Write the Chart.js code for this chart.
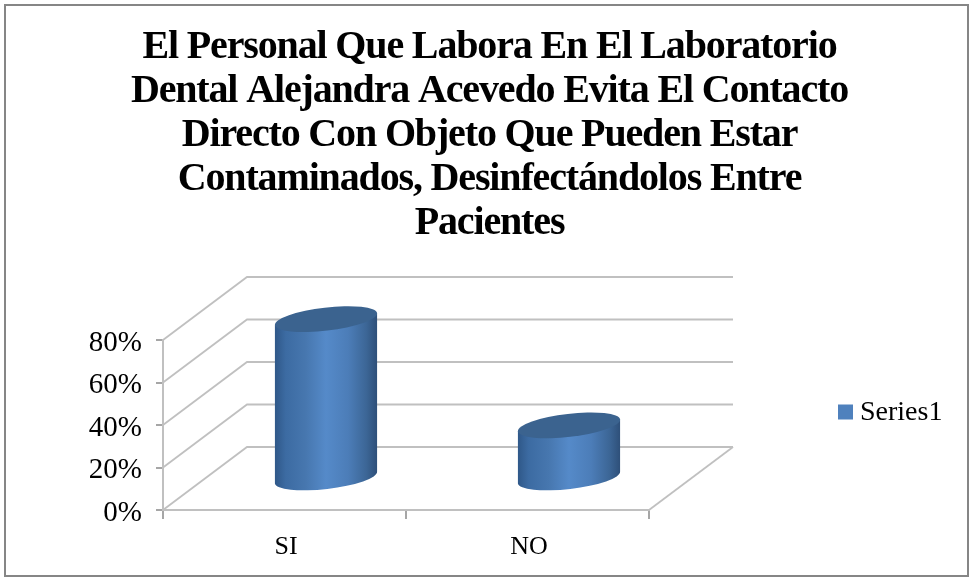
<!DOCTYPE html>
<html>
<head>
<meta charset="utf-8">
<style>html,body{margin:0;padding:0;background:#fff}canvas{display:block}</style>
<script src="https://cdn.jsdelivr.net/npm/chart.js@4"></script>
</head>
<body>
<canvas id="c" width="973" height="580" style="width:973px;height:580px"></canvas>
<script>
const categories = ['SI', 'NO'];
const seriesName = 'Series1';
const seriesValues = [75, 25];
const yTickValues = [0, 20, 40, 60, 80];
const titleLines = [
  'El Personal Que Labora En El Laboratorio',
  'Dental Alejandra Acevedo Evita El Contacto',
  'Directo Con Objeto Que Pueden Estar',
  'Contaminados, Desinfectándolos Entre',
  'Pacientes'
];
const DEPTH_X = 84, DEPTH_Y = -63;
const WALL = '#c0c0c0', TICK = '#a6a6a6', AXISFONT = '"Liberation Serif", serif';

function cylinder(ctx, cx, top, base, w) {
  const a = w / 2 + 1, b = 11.5, rot = -0.115;
  const dx = a * Math.cos(rot), dy = a * Math.sin(rot);
  const g = ctx.createLinearGradient(cx - w / 2, 0, cx + w / 2, 0);
  g.addColorStop(0, '#30598a');
  g.addColorStop(0.1, '#3c6ba2');
  g.addColorStop(0.3, '#4777af');
  g.addColorStop(0.5, '#558ac9');
  g.addColorStop(0.72, '#4c7db8');
  g.addColorStop(0.9, '#3c6696');
  g.addColorStop(1, '#2f517b');
  ctx.save();
  ctx.beginPath();
  ctx.moveTo(cx - dx, top - dy);
  ctx.lineTo(cx - dx, base - dy);
  ctx.ellipse(cx, base, a, b, rot, Math.PI, 0, true);
  ctx.lineTo(cx + dx, top + dy);
  ctx.closePath();
  ctx.fillStyle = g;
  ctx.fill();
  ctx.beginPath();
  ctx.ellipse(cx, top, a, b, rot, 0, Math.PI * 2);
  ctx.fillStyle = '#3b638f';
  ctx.fill();
  ctx.restore();
}

const scene = {
  id: 'scene',
  beforeUpdate(chart) {
    const lg = chart.legend;
    if (lg && !lg._patched) {
      const orig = lg.fit;
      lg.fit = function () { orig.call(this); this.width = 324; };
      lg._patched = true;
    }
    const tb = chart.titleBlock;
    if (tb && !tb._patched) {
      const draw = tb.draw;
      tb.draw = function () {
        const ctx = this.ctx;
        ctx.save();
        ctx.translate(3, 1);
        ctx.letterSpacing = '-1.15px';
        draw.call(this);
        ctx.restore();
      };
      tb._patched = true;
    }
  },
  afterLayout(chart) {
    const lg = chart.legend;
    const pad = lg.options.labels.padding;
    const w = lg.right - lg.left, h = lg.bottom - lg.top;
    lg.left = 838 - pad; lg.right = lg.left + w;
    lg.top = 399 - pad; lg.bottom = lg.top + h;
  },
  beforeDraw(chart) {
    const ctx = chart.ctx;
    ctx.save();
    ctx.fillStyle = '#fff';
    ctx.fillRect(0, 0, chart.width, chart.height);
    ctx.strokeStyle = '#868686';
    ctx.lineWidth = 2;
    ctx.strokeRect(5, 5, 963, 571);
    ctx.restore();
  },
  beforeDatasetsDraw(chart) {
    const ctx = chart.ctx, y = chart.scales.y, x = chart.scales.x;
    ctx.save();
    ctx.lineWidth = 1.8;
    ctx.strokeStyle = WALL;
    yTickValues.forEach(v => {
      const py = y.getPixelForValue(v);
      ctx.beginPath();
      ctx.moveTo(x.left, py);
      ctx.lineTo(x.left + DEPTH_X, py + DEPTH_Y);
      ctx.lineTo(x.right + DEPTH_X, py + DEPTH_Y);
      ctx.stroke();
    });
    const by = y.getPixelForValue(0);
    ctx.beginPath();
    ctx.moveTo(x.right, by);
    ctx.lineTo(x.right + DEPTH_X, by + DEPTH_Y);
    ctx.stroke();
    ctx.restore();
  },
  beforeDatasetDraw(chart, args) {
    const ctx = chart.ctx;
    args.meta.data.forEach(el => {
      const p = el.getProps(['x', 'y', 'base', 'width'], true);
      cylinder(ctx, p.x + DEPTH_X / 2 - 0.5, p.y + DEPTH_Y / 2, p.base + DEPTH_Y / 2, p.width);
    });
    return false;
  },
  afterDraw(chart) {
    const ctx = chart.ctx, item = chart.legend.legendItems[0];
    ctx.save();
    ctx.font = '28px ' + AXISFONT;
    ctx.fillStyle = '#000';
    ctx.textBaseline = 'middle';
    ctx.textAlign = 'left';
    ctx.fillText(item.text, 860, 413);
    ctx.restore();
  }
};

new Chart(document.getElementById('c'), {
  type: 'bar',
  data: {
    labels: categories,
    datasets: [{ label: seriesName, data: seriesValues, backgroundColor: '#4f81bd', barPercentage: 0.415, categoryPercentage: 1 }]
  },
  options: {
    responsive: false,
    animation: false,
    layout: { padding: 0 },
    plugins: {
      tooltip: { enabled: false },
      title: {
        display: true,
        text: titleLines,
        color: '#000',
        font: { family: AXISFONT, size: 40, weight: 'bold', lineHeight: 44 / 40 },
        padding: { top: 25, bottom: 95 }
      },
      legend: {
        position: 'right',
        align: 'start',
        labels: { boxWidth: 15, boxHeight: 15, padding: 8, color: 'rgba(0,0,0,0)', font: { family: AXISFONT, size: 26 } }
      }
    },
    scales: {
      x: {
        afterFit(s) { s.height = 70; },
        grid: { drawOnChartArea: false, offset: true, color: TICK, tickLength: 9, lineWidth: 2 },
        border: { display: true, color: WALL, width: 2 },
        ticks: { color: '#000', padding: 13, labelOffset: 1.5, font: { family: AXISFONT, size: 26 } }
      },
      y: {
        min: 0,
        max: 80,
        afterFit(s) { s.width = 163; },
        afterBuildTicks(s) { s.ticks = yTickValues.map(v => ({ value: v })); },
        grid: { drawOnChartArea: false, color: TICK, tickLength: 7, lineWidth: 2 },
        border: { display: true, color: WALL, width: 2 },
        ticks: { color: '#000', padding: 14, labelOffset: 3, font: { family: AXISFONT, size: 29 }, callback: v => v + '%' }
      }
    }
  },
  plugins: [scene]
});
</script>
</body>
</html>
